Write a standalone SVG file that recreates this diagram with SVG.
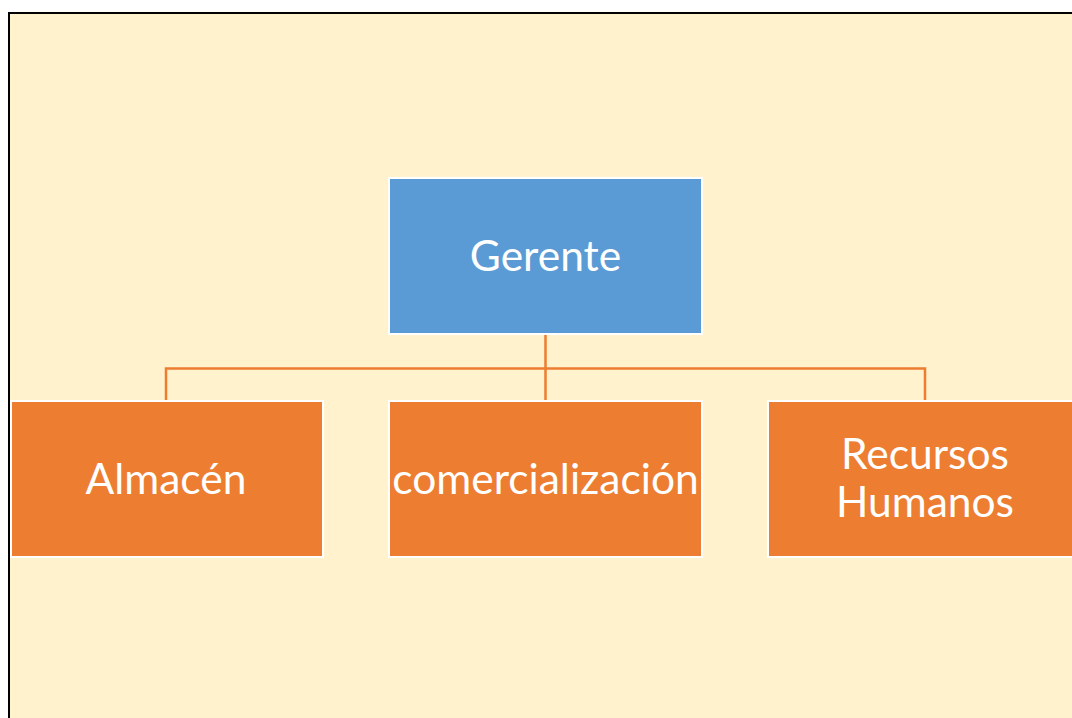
<svg xmlns="http://www.w3.org/2000/svg" width="1072" height="718" viewBox="0 0 1072 718">
<style>
.bx{stroke:#FFFFFF;stroke-width:2}
.top{fill:#5B9BD5}
.sub{fill:#ED7D31}
.t{font-family:Lato,"Open Sans",sans-serif;font-size:42.5px;fill:#FFFFFF;text-anchor:middle}
.c{stroke:#ED7D31;stroke-width:2.5;fill:none}
</style>
<rect x="0" y="0" width="1072" height="718" fill="#FFFFFF"/>
<rect x="9" y="13" width="1075" height="710" fill="#FFF2CC" stroke="#000000" stroke-width="2"/>
<g id="connectors">
<path class="c" d="M545.5 335 V368.5 M166 401 V368.5 H925 V401 M545.5 368.5 V401"/>
</g>
<g id="gerente">
<rect class="bx top" x="389" y="178" width="313" height="156"/>
<text class="t" x="545.5" y="271">Gerente</text>
</g>
<g id="almacen">
<rect class="bx sub" x="11" y="401" width="312" height="156"/>
<text class="t" x="166" y="494">Almacén</text>
</g>
<g id="comercializacion">
<rect class="bx sub" x="389" y="401" width="313" height="156"/>
<text class="t" x="545.5" y="494">comercialización</text>
</g>
<g id="recursos">
<rect class="bx sub" x="768" y="401" width="313" height="156"/>
<text class="t" x="925" y="469">Recursos</text>
<text class="t" x="925" y="517">Humanos</text>
</g>
</svg>
